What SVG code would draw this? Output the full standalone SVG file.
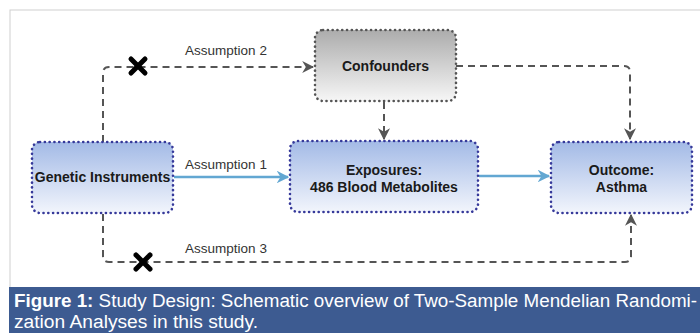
<svg xmlns="http://www.w3.org/2000/svg" width="700" height="333" viewBox="0 0 700 333">
<style>
.node{stroke:#36399a;stroke-width:2.6;stroke-dasharray:0.1 4.7;stroke-linecap:round}
.conf{stroke:#555;stroke-width:2.6;stroke-dasharray:0.1 4.7;stroke-linecap:round}
.lbl{font-family:"Liberation Sans",Arial,sans-serif;font-size:14px;font-weight:bold;fill:#1a1a1a;text-anchor:middle}
.asm{font-family:"Liberation Sans",Arial,sans-serif;font-size:13.5px;fill:#333;text-anchor:middle}
.dash{fill:none;stroke:#555;stroke-width:2;stroke-dasharray:7 5}
.solid{fill:none;stroke:#62a7d2;stroke-width:2.5}
.x{stroke:#000;stroke-width:5;stroke-linecap:round}
.cap{font-family:"Liberation Sans",Arial,sans-serif;font-size:18px;fill:#fff}
</style>
<defs>
<linearGradient id="gb" x1="0" y1="0" x2="0" y2="1">
<stop offset="0" stop-color="#a3bae6"/>
<stop offset="1" stop-color="#f2f5fc"/>
</linearGradient>
<linearGradient id="gg" x1="0" y1="0" x2="0" y2="1">
<stop offset="0" stop-color="#acacac"/>
<stop offset="1" stop-color="#f6f6f6"/>
</linearGradient>
<marker id="ag" viewBox="0 0 10 10" refX="9" refY="5" markerWidth="6" markerHeight="6" orient="auto" markerUnits="strokeWidth">
<path d="M0,0 L10,5 L0,10 L3,5 Z" fill="#555"/>
</marker>
<marker id="ab" viewBox="0 0 10 10" refX="9" refY="5" markerWidth="5" markerHeight="5" orient="auto" markerUnits="strokeWidth">
<path d="M0,0 L10,5 L0,10 L3,5 Z" fill="#62a7d2"/>
</marker>
</defs>
<rect x="0" y="0" width="700" height="333" fill="#fff"/>
<rect x="10" y="10" width="700" height="280" fill="#fff" stroke="#d0d0d0" stroke-width="1"/>

<g id="connectors">
<path class="dash" d="M103,142 V73 Q103,67 109,67 H313" marker-end="url(#ag)"/>
<path class="dash" d="M456,66 H624 Q630,66 630,72 V139" marker-end="url(#ag)"/>
<path class="dash" d="M384,102 V139" marker-end="url(#ag)"/>
<path class="dash" d="M103,214 V256 Q103,262 109,262 H625 Q631,262 631,256 V215" marker-end="url(#ag)"/>
<path class="solid" d="M174,177 H288" marker-end="url(#ab)"/>
<path class="solid" d="M479,176 H549" marker-end="url(#ab)"/>
<g id="x1"><line class="x" x1="131" y1="59" x2="145" y2="73"/><line class="x" x1="145" y1="59" x2="131" y2="73"/></g>
<g id="x2"><line class="x" x1="136" y1="255" x2="150" y2="269"/><line class="x" x1="150" y1="255" x2="136" y2="269"/></g>
<text class="asm" x="226" y="55">Assumption 2</text>
<text class="asm" x="226" y="169">Assumption 1</text>
<text class="asm" x="226" y="253">Assumption 3</text>
</g>

<g id="confounders">
<rect x="315" y="30" width="141" height="71" rx="8" fill="url(#gg)"/>
<rect class="conf" x="315" y="30" width="141" height="71" rx="8" fill="none"/>
<text class="lbl" x="385.5" y="71">Confounders</text>
</g>

<g id="genetic">
<rect x="32" y="142" width="141" height="71" rx="8" fill="url(#gb)"/>
<rect class="node" x="32" y="142" width="141" height="71" rx="8" fill="none"/>
<text class="lbl" x="102.5" y="182">Genetic Instruments</text>
</g>

<g id="exposures">
<rect x="290" y="141" width="188" height="71" rx="8" fill="url(#gb)"/>
<rect class="node" x="290" y="141" width="188" height="71" rx="8" fill="none"/>
<text class="lbl" x="384" y="175">Exposures:</text>
<text class="lbl" x="384" y="192">486 Blood Metabolites</text>
</g>

<g id="outcome">
<rect x="551" y="142" width="141" height="71" rx="8" fill="url(#gb)"/>
<rect class="node" x="551" y="142" width="141" height="71" rx="8" fill="none"/>
<text class="lbl" x="621.5" y="175">Outcome:</text>
<text class="lbl" x="621.5" y="192">Asthma</text>
</g>

<g id="caption">
<rect x="9" y="287" width="691" height="46" fill="#3d5b91"/>
<text class="cap" x="14" y="307" textLength="683" lengthAdjust="spacingAndGlyphs"><tspan font-weight="bold">Figure 1:</tspan> Study Design: Schematic overview of Two-Sample Mendelian Randomi-</text>
<text class="cap" x="14" y="328" textLength="244" lengthAdjust="spacingAndGlyphs">zation Analyses in this study.</text>
</g>
</svg>
